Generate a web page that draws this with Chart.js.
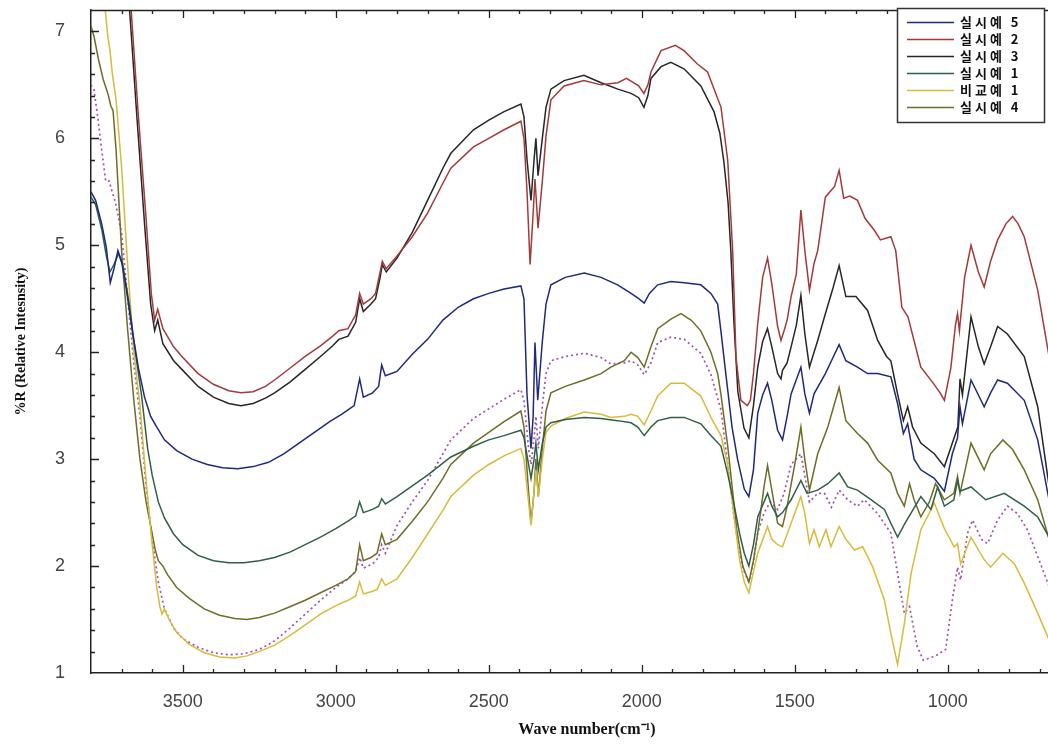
<!DOCTYPE html>
<html>
<head>
<meta charset="utf-8">
<script src="https://cdn.jsdelivr.net/npm/chart.js@4.4.1/dist/chart.umd.min.js"></script>
<style>
  html, body { margin: 0; padding: 0; background: #fff; overflow: hidden; }
  #wrap { width: 1083px; height: 745px; }
</style>
</head>
<body>
<div id="wrap"><canvas id="irChart" width="1083" height="745"></canvas></div>
<script>
// [wavenumber, %R] pairs
const s5 = [[3800,5.5],[3785,5.42],[3765,5.2],[3750,4.98],[3737,4.65],[3725,4.78],[3712,4.95],[3700,4.85],[3685,4.6],[3665,4.2],[3645,3.85],[3625,3.58],[3605,3.4],[3585,3.3],[3560,3.18],[3520,3.08],[3470,3.0],[3420,2.95],[3370,2.92],[3320,2.91],[3270,2.93],[3220,2.97],[3170,3.05],[3120,3.15],[3070,3.25],[3020,3.35],[2980,3.42],[2940,3.5],[2922,3.75],[2910,3.58],[2880,3.62],[2860,3.68],[2850,3.88],[2838,3.78],[2800,3.82],[2750,3.98],[2700,4.12],[2650,4.3],[2600,4.42],[2550,4.5],[2500,4.55],[2450,4.59],[2395,4.62],[2385,4.5],[2375,3.6],[2362,3.1],[2355,3.4],[2349,4.09],[2340,3.55],[2325,4.1],[2313,4.45],[2297,4.63],[2250,4.7],[2188,4.74],[2133,4.7],[2079,4.63],[2035,4.55],[2010,4.5],[1992,4.46],[1975,4.55],[1948,4.63],[1905,4.66],[1861,4.65],[1807,4.63],[1774,4.55],[1752,4.45],[1741,4.19],[1725,3.79],[1705,3.3],[1687,3.0],[1665,2.72],[1650,2.65],[1635,2.9],[1621,3.43],[1605,3.6],[1589,3.71],[1575,3.55],[1556,3.27],[1540,3.18],[1525,3.4],[1512,3.61],[1480,3.86],[1467,3.61],[1452,3.43],[1437,3.61],[1400,3.8],[1375,3.95],[1355,4.07],[1333,3.92],[1295,3.86],[1262,3.8],[1229,3.8],[1186,3.77],[1164,3.52],[1145,3.24],[1131,3.33],[1110,3.0],[1088,2.9],[1044,2.82],[1011,2.7],[985,3.05],[968,3.2],[960,3.49],[952,3.33],[924,3.74],[881,3.49],[860,3.62],[837,3.74],[805,3.71],[750,3.55],[706,3.18],[669,2.62]];

const s2 = [[3800,9.0],[3700,8.0],[3670,7.25],[3645,6.2],[3620,5.25],[3603,4.55],[3592,4.3],[3582,4.4],[3565,4.22],[3530,4.05],[3500,3.95],[3450,3.8],[3400,3.7],[3350,3.64],[3310,3.62],[3270,3.63],[3230,3.68],[3200,3.74],[3150,3.85],[3100,3.96],[3050,4.06],[3010,4.15],[2990,4.2],[2960,4.22],[2935,4.35],[2922,4.55],[2910,4.45],[2885,4.5],[2870,4.55],[2855,4.75],[2848,4.85],[2835,4.78],[2800,4.9],[2750,5.08],[2700,5.3],[2650,5.58],[2624,5.72],[2550,5.92],[2500,6.0],[2450,6.08],[2395,6.16],[2385,6.0],[2375,5.5],[2365,4.82],[2355,5.3],[2349,5.62],[2339,5.16],[2325,5.6],[2313,6.02],[2297,6.36],[2254,6.49],[2189,6.54],[2133,6.5],[2078,6.52],[2050,6.56],[2010,6.49],[1993,6.42],[1980,6.5],[1970,6.62],[1937,6.82],[1890,6.87],[1862,6.82],[1820,6.7],[1785,6.62],[1741,6.29],[1719,5.79],[1703,4.95],[1692,3.95],[1676,3.55],[1655,3.5],[1645,3.55],[1635,3.8],[1621,4.27],[1605,4.7],[1589,4.88],[1575,4.64],[1556,4.24],[1545,4.11],[1535,4.2],[1525,4.3],[1512,4.52],[1495,4.73],[1480,5.33],[1467,4.95],[1452,4.58],[1437,4.83],[1425,4.95],[1400,5.45],[1370,5.55],[1355,5.7],[1340,5.44],[1320,5.46],[1295,5.42],[1270,5.25],[1240,5.14],[1220,5.05],[1186,5.08],[1170,4.95],[1150,4.42],[1130,4.33],[1088,3.86],[1050,3.72],[1025,3.62],[1011,3.55],[990,3.85],[975,4.25],[968,4.36],[962,4.2],[945,4.7],[924,5.0],[900,4.75],[881,4.61],[860,4.85],[837,5.05],[810,5.2],[788,5.27],[770,5.2],[750,5.08],[706,4.58],[669,3.96]];

const s3 = [[3800,9.0],[3700,7.9],[3675,7.25],[3650,6.2],[3625,5.2],[3605,4.45],[3592,4.2],[3582,4.3],[3565,4.08],[3530,3.92],[3500,3.83],[3450,3.68],[3400,3.58],[3350,3.52],[3310,3.5],[3270,3.52],[3230,3.57],[3200,3.62],[3150,3.72],[3100,3.84],[3050,3.96],[3010,4.06],[2990,4.12],[2960,4.15],[2935,4.28],[2922,4.5],[2910,4.38],[2885,4.45],[2870,4.5],[2855,4.7],[2848,4.82],[2835,4.75],[2800,4.88],[2750,5.12],[2700,5.42],[2650,5.72],[2624,5.86],[2550,6.08],[2500,6.17],[2450,6.25],[2395,6.32],[2385,6.2],[2375,5.8],[2362,5.42],[2352,5.8],[2346,6.0],[2339,5.65],[2325,6.0],[2313,6.29],[2297,6.46],[2254,6.54],[2189,6.59],[2133,6.52],[2078,6.46],[2035,6.42],[2010,6.38],[1993,6.29],[1980,6.4],[1970,6.56],[1937,6.67],[1905,6.71],[1862,6.65],[1807,6.49],[1764,6.25],[1745,6.05],[1732,5.79],[1718,5.4],[1709,4.95],[1699,4.29],[1686,3.63],[1666,3.29],[1650,3.2],[1635,3.5],[1621,3.86],[1605,4.1],[1589,4.22],[1575,4.05],[1556,3.8],[1545,3.75],[1540,3.83],[1525,3.9],[1512,4.05],[1495,4.25],[1480,4.53],[1467,4.17],[1452,3.86],[1437,4.0],[1425,4.11],[1400,4.36],[1375,4.6],[1355,4.81],[1333,4.52],[1300,4.52],[1262,4.39],[1229,4.11],[1200,3.96],[1186,3.92],[1164,3.61],[1145,3.36],[1131,3.49],[1115,3.3],[1088,3.15],[1044,3.05],[1011,2.93],[985,3.15],[967,3.3],[960,3.75],[952,3.6],[924,4.33],[900,4.05],[881,3.89],[860,4.05],[837,4.24],[805,4.17],[750,3.96],[706,3.49],[669,2.75]];

const s1 = [[3800,5.45],[3785,5.38],[3765,5.15],[3750,4.9],[3738,4.75],[3725,4.82],[3710,4.92],[3695,4.8],[3675,4.45],[3655,4.0],[3635,3.6],[3615,3.1],[3600,2.85],[3580,2.6],[3560,2.45],[3530,2.3],[3500,2.2],[3450,2.1],[3400,2.05],[3350,2.03],[3300,2.03],[3250,2.05],[3200,2.08],[3150,2.13],[3100,2.2],[3050,2.27],[3000,2.35],[2960,2.42],[2935,2.47],[2922,2.6],[2910,2.5],[2880,2.53],[2860,2.56],[2850,2.63],[2838,2.58],[2800,2.65],[2750,2.75],[2700,2.85],[2624,3.02],[2550,3.12],[2500,3.18],[2450,3.22],[2395,3.27],[2385,3.2],[2370,2.95],[2362,2.82],[2352,3.0],[2346,3.15],[2338,2.9],[2325,3.15],[2313,3.3],[2297,3.34],[2250,3.37],[2188,3.39],[2133,3.38],[2079,3.36],[2035,3.34],[2013,3.3],[1992,3.22],[1970,3.3],[1948,3.36],[1905,3.39],[1861,3.39],[1807,3.33],[1774,3.22],[1741,3.12],[1719,2.86],[1700,2.6],[1680,2.3],[1665,2.12],[1650,2.0],[1635,2.2],[1621,2.46],[1589,2.68],[1575,2.56],[1556,2.46],[1540,2.5],[1512,2.62],[1480,2.8],[1460,2.68],[1425,2.71],[1392,2.77],[1355,2.87],[1327,2.74],[1295,2.71],[1250,2.62],[1207,2.53],[1186,2.4],[1164,2.27],[1140,2.4],[1088,2.65],[1055,2.53],[1033,2.74],[1011,2.56],[980,2.62],[968,2.8],[960,2.7],[924,2.74],[876,2.62],[815,2.68],[750,2.56],[706,2.46],[669,2.27]];

const c1 = [[3755,7.25],[3745,6.95],[3738,6.82],[3730,6.6],[3718,6.36],[3700,5.73],[3680,4.8],[3660,4.0],[3640,3.5],[3620,2.8],[3600,2.2],[3585,1.8],[3575,1.62],[3568,1.55],[3560,1.6],[3545,1.5],[3520,1.38],[3480,1.27],[3430,1.19],[3380,1.15],[3330,1.14],[3290,1.16],[3250,1.2],[3200,1.26],[3150,1.35],[3100,1.45],[3050,1.55],[3000,1.63],[2960,1.68],[2935,1.72],[2922,1.85],[2910,1.74],[2885,1.76],[2865,1.78],[2850,1.88],[2838,1.82],[2800,1.88],[2750,2.08],[2700,2.3],[2650,2.52],[2624,2.65],[2550,2.85],[2500,2.95],[2450,3.03],[2395,3.1],[2385,3.0],[2370,2.6],[2362,2.38],[2352,2.7],[2346,2.9],[2338,2.65],[2325,3.0],[2313,3.25],[2297,3.31],[2250,3.38],[2188,3.44],[2133,3.42],[2101,3.39],[2057,3.4],[2035,3.42],[2013,3.4],[1992,3.32],[1970,3.45],[1948,3.59],[1905,3.71],[1861,3.71],[1807,3.59],[1774,3.39],[1741,3.22],[1719,2.95],[1700,2.5],[1680,2.05],[1665,1.85],[1650,1.75],[1635,1.95],[1621,2.12],[1589,2.37],[1575,2.25],[1556,2.2],[1540,2.18],[1512,2.4],[1480,2.65],[1467,2.49],[1452,2.21],[1437,2.34],[1420,2.18],[1398,2.34],[1382,2.18],[1355,2.37],[1333,2.25],[1305,2.15],[1278,2.18],[1245,1.99],[1207,1.68],[1186,1.37],[1164,1.08],[1142,1.46],[1120,1.93],[1088,2.34],[1044,2.59],[1011,2.35],[979,2.18],[968,2.21],[958,2.02],[924,2.27],[881,2.06],[860,1.99],[820,2.12],[782,2.02],[750,1.84],[706,1.56],[669,1.31]];

const s4 = [[3800,7.05],[3790,6.95],[3775,6.73],[3760,6.55],[3745,6.42],[3735,6.3],[3728,6.26],[3718,5.89],[3700,4.95],[3680,4.2],[3660,3.55],[3640,3.0],[3620,2.6],[3600,2.3],[3590,2.15],[3580,2.05],[3565,2.0],[3550,1.92],[3520,1.8],[3480,1.7],[3430,1.6],[3380,1.54],[3330,1.51],[3290,1.5],[3250,1.52],[3200,1.56],[3150,1.62],[3100,1.68],[3050,1.75],[3000,1.82],[2960,1.88],[2935,1.95],[2922,2.2],[2910,2.05],[2885,2.08],[2865,2.12],[2850,2.3],[2838,2.2],[2800,2.25],[2750,2.42],[2700,2.6],[2650,2.82],[2624,2.95],[2550,3.15],[2500,3.25],[2450,3.35],[2395,3.45],[2385,3.3],[2370,2.7],[2362,2.4],[2352,2.7],[2346,3.0],[2338,2.65],[2325,3.1],[2313,3.45],[2297,3.62],[2250,3.68],[2188,3.74],[2133,3.8],[2101,3.86],[2057,3.92],[2035,4.0],[2013,3.95],[1992,3.86],[1970,4.05],[1948,4.22],[1905,4.31],[1872,4.36],[1839,4.3],[1807,4.2],[1774,4.0],[1752,3.8],[1741,3.6],[1719,3.12],[1705,2.75],[1690,2.35],[1670,2.0],[1650,1.85],[1635,2.05],[1621,2.31],[1600,2.75],[1589,2.94],[1575,2.71],[1556,2.4],[1540,2.37],[1525,2.56],[1500,2.95],[1480,3.3],[1467,2.99],[1452,2.71],[1425,3.05],[1392,3.3],[1355,3.67],[1333,3.36],[1295,3.24],[1262,3.15],[1229,2.99],[1186,2.87],[1164,2.68],[1142,2.56],[1125,2.77],[1110,2.62],[1088,2.46],[1060,2.6],[1040,2.77],[1011,2.62],[980,2.68],[968,2.84],[960,2.68],[924,3.15],[881,2.9],[860,3.05],[820,3.18],[788,3.09],[750,2.9],[706,2.62],[669,2.25]];

// dotted trace, not named in the legend
const sDot = [[3800,6.5],[3790,6.45],[3778,6.2],[3765,5.89],[3752,5.6],[3740,5.6],[3735,5.54],[3720,5.4],[3700,5.11],[3680,4.5],[3660,3.9],[3640,3.4],[3620,2.75],[3600,2.25],[3580,1.85],[3560,1.6],[3530,1.42],[3500,1.32],[3450,1.24],[3400,1.19],[3350,1.17],[3300,1.18],[3250,1.22],[3200,1.3],[3150,1.42],[3100,1.55],[3050,1.68],[3000,1.8],[2960,1.88],[2935,1.95],[2922,2.08],[2910,1.98],[2880,2.02],[2860,2.08],[2850,2.2],[2838,2.12],[2800,2.38],[2750,2.6],[2700,2.8],[2650,3.05],[2624,3.18],[2550,3.38],[2500,3.47],[2450,3.56],[2395,3.65],[2385,3.55],[2370,3.1],[2362,2.95],[2352,3.2],[2346,3.4],[2338,3.1],[2325,3.5],[2313,3.8],[2297,3.92],[2250,3.96],[2188,3.99],[2133,3.95],[2101,3.89],[2057,3.9],[2035,3.92],[2013,3.88],[1992,3.79],[1970,3.9],[1948,4.09],[1905,4.14],[1861,4.12],[1807,3.99],[1774,3.79],[1741,3.46],[1719,2.95],[1700,2.5],[1680,2.1],[1665,1.95],[1650,1.85],[1635,2.05],[1621,2.31],[1600,2.5],[1580,2.6],[1556,2.53],[1535,2.68],[1512,2.95],[1480,3.05],[1452,2.6],[1425,2.68],[1403,2.68],[1380,2.55],[1355,2.71],[1327,2.62],[1295,2.56],[1273,2.62],[1229,2.49],[1186,2.31],[1164,1.93],[1142,1.56],[1125,1.62],[1100,1.25],[1080,1.12],[1040,1.16],[1007,1.22],[985,1.68],[968,1.99],[958,1.87],[935,2.31],[919,2.43],[890,2.25],[870,2.21],[837,2.43],[805,2.56],[772,2.49],[740,2.34],[706,2.09],[669,1.81]];

const xTicks = [3500, 3000, 2500, 2000, 1500, 1000];
const yTicks = [1, 2, 3, 4, 5, 6, 7];

const series = [
    { label: '실시예 5', data: s5, color: '#1f2a78' },
    { label: '실시예 2', data: s2, color: '#a33a3a' },
    { label: '실시예 3', data: s3, color: '#262626' },
    { label: '실시예 1', data: s1, color: '#2f5f45' },
    { label: '비교예 1', data: c1, color: '#d6bb3c' },
    { label: '실시예 4', data: s4, color: '#6d6d28' },
    { label: '', data: sDot, color: '#a050b0', dash: [2, 3] }
];

const tickFont = { family: '"Liberation Sans", Arial, sans-serif', size: 18 };

// inward tick marks, top frame line and the boxed legend
const framePlugin = {
    id: 'frame',
    afterDraw(chart) {
        const ctx = chart.ctx;
        const a = chart.chartArea;
        const x = chart.scales.x, y = chart.scales.y;
        ctx.save();
        ctx.strokeStyle = '#222';
        ctx.lineWidth = 1.3;
        ctx.beginPath();
        ctx.moveTo(a.left, a.top + 0.5);
        ctx.lineTo(a.right, a.top + 0.5);
        for (let w = 600; w <= 3800; w += 100) {
            const px = Math.round(x.getPixelForValue(w)) + 0.5;
            if (px <= a.left + 1 || px > a.right) continue;
            const len = w % 500 === 0 ? 8 : 4;
            ctx.moveTo(px, a.bottom); ctx.lineTo(px, a.bottom - len);
            ctx.moveTo(px, a.top); ctx.lineTo(px, a.top + len);
        }
        for (let i = 1; i <= 30; i++) {
            const py = Math.round(y.getPixelForValue(1 + i * 0.2)) + 0.5;
            const len = i % 5 === 0 ? 8 : 4;
            ctx.moveTo(a.left, py); ctx.lineTo(a.left + len, py);
        }
        ctx.stroke();

        // legend
        const bx = 897, by = 8, bw = 147, rowH = 17;
        const items = chart.data.datasets.filter(d => d.label);
        const bh = 12 + rowH * items.length;
        ctx.fillStyle = '#fff';
        ctx.fillRect(bx, by, bw, bh);
        ctx.lineWidth = 1.5;
        ctx.strokeStyle = '#333';
        ctx.strokeRect(bx + 0.5, by + 0.5, bw, bh);
        ctx.font = 'bold 13px "Noto Sans CJK KR", sans-serif';
        ctx.letterSpacing = '3px';
        ctx.textBaseline = 'middle';
        ctx.fillStyle = '#111';
        items.forEach((d, i) => {
            const cy = by + 14 + i * rowH;
            ctx.strokeStyle = d.borderColor;
            ctx.lineWidth = 1.5;
            ctx.beginPath();
            ctx.moveTo(907, cy + 0.5);
            ctx.lineTo(954, cy + 0.5);
            ctx.stroke();
            ctx.fillText(d.label, 960, cy);
        });
        ctx.restore();
    }
};

const ctx = document.getElementById('irChart').getContext('2d');
new Chart(ctx, {
    type: 'line',
    data: {
        datasets: series.map(s => ({
            label: s.label,
            data: s.data.map(p => ({ x: p[0], y: p[1] })),
            borderColor: s.color,
            borderWidth: s.dash ? 1.7 : 1.5,
            borderDash: s.dash || [],
            pointRadius: 0,
            tension: 0,
            fill: false
        }))
    },
    options: {
        responsive: false,
        animation: false,
        devicePixelRatio: 1,
        layout: { padding: { top: 10, right: 0, left: 0, bottom: 0 } },
        plugins: { legend: { display: false }, tooltip: { enabled: false } },
        scales: {
            x: {
                type: 'linear',
                reverse: true,
                min: 558,
                max: 3800,
                afterFit: s => { s.height = 72; s.paddingLeft = 0; s.paddingRight = 0; },
                afterBuildTicks: s => { s.ticks = xTicks.map(v => ({ value: v })); },
                ticks: { font: tickFont, color: '#444', padding: 18, maxRotation: 0, callback: v => String(v) },
                grid: { display: false, drawTicks: false },
                border: { display: true, color: '#222', width: 1.5 },
                title: {
                    display: true,
                    text: 'Wave number(cm⁻¹)',
                    font: { family: '"Liberation Serif", "Times New Roman", serif', size: 16, weight: 'bold' },
                    color: '#111',
                    padding: { top: 0, bottom: 6 }
                }
            },
            y: {
                min: 1,
                max: 7.2,
                afterFit: s => { s.width = 91; s.paddingTop = 0; s.paddingBottom = 0; },
                afterBuildTicks: s => { s.ticks = yTicks.map(v => ({ value: v })); },
                ticks: { font: tickFont, color: '#444', padding: 26, callback: v => String(v) },
                grid: { display: false, drawTicks: false },
                border: { display: true, color: '#222', width: 1.5 },
                title: {
                    display: true,
                    text: '%R (Relative Intesnsity)',
                    font: { family: '"Liberation Serif", "Times New Roman", serif', size: 14, weight: 'bold' },
                    color: '#111',
                    padding: { top: 13, bottom: 0 }
                }
            }
        }
    },
    plugins: [framePlugin]
});
</script>
</body>
</html>
